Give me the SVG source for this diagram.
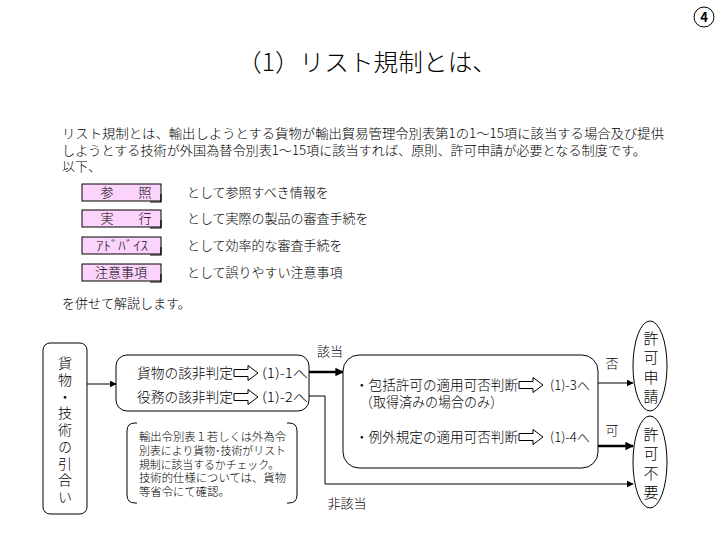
<svg xmlns="http://www.w3.org/2000/svg" width="720" height="540" viewBox="0 0 720 540">
<defs>
<style>
text{font-family:"Noto Sans CJK JP","Noto Sans CJK SC",sans-serif;fill:#000;font-weight:300}
.t13{font-size:13px}
.t14{font-size:14px}
.t12{font-size:11.5px}
.v{font-size:14px;writing-mode:vertical-rl;letter-spacing:2.7px}
.e{font-size:15px;writing-mode:vertical-rl;letter-spacing:4.2px}
.tag{fill:#FBD3FB;stroke:#000;stroke-width:1}
.box{fill:#fff;stroke:#000;stroke-width:1}
.ln{fill:none;stroke:#000;stroke-width:1}
.thick{fill:none;stroke:#000;stroke-width:2.5}
</style>
<marker id="ah" viewBox="0 0 10 10" refX="9" refY="5" markerWidth="7" markerHeight="7" markerUnits="userSpaceOnUse" orient="auto"><path d="M0,0 L10,5 L0,10 Z" fill="#000"/></marker>
<marker id="ahT" viewBox="0 0 10 10" refX="9" refY="5" markerWidth="3.4" markerHeight="3.4" orient="auto"><path d="M0,0 L10,5 L0,10 Z" fill="#000"/></marker>
<path id="barrow" d="M0,-3.5 H14 V-7.5 L24,0 L14,7.5 V3.5 H0 Z" fill="#fff" stroke="#000" stroke-width="1"/>
<path id="tagfold" d="M-1,-7 V1 H-12" fill="none" stroke="#000" stroke-width="1.2"/>
</defs>
<rect width="720" height="540" fill="#fff"/>

<g id="page-number">
<circle cx="704" cy="17" r="10" fill="#fff" stroke="#000" stroke-width="1"/>
<text x="704" y="22" style="font-size:13px;text-anchor:middle;font-weight:bold">4</text>
</g>

<g id="title">
<text x="237" y="71" style="font-size:24px" textLength="260" lengthAdjust="spacingAndGlyphs">（1）リスト規制とは、</text>
</g>

<g id="intro">
<text class="t13"><tspan x="62" y="138" textLength="602" lengthAdjust="spacingAndGlyphs">リスト規制とは、輸出しようとする貨物が輸出貿易管理令別表第1の1～15項に該当する場合及び提供</tspan><tspan x="62" y="155" textLength="584" lengthAdjust="spacingAndGlyphs">しようとする技術が外国為替令別表1～15項に該当すれば、原則、許可申請が必要となる制度です。</tspan><tspan x="62" y="171">以下、</tspan></text>
<text class="t13" x="62" y="308">を併せて解説します。</text>
</g>

<g id="tag-sansho">
<rect class="tag" x="82" y="184" width="79" height="17"/>
<use href="#tagfold" x="162" y="201"/>
<text class="t13" x="107" y="197" style="text-anchor:middle">参</text>
<text class="t13" x="145" y="197" style="text-anchor:middle">照</text>
<text class="t13" x="187" y="197">として参照すべき情報を</text>
</g>
<g id="tag-jikko">
<rect class="tag" x="82" y="210" width="79" height="17"/>
<use href="#tagfold" x="162" y="227"/>
<text class="t13" x="107" y="223" style="text-anchor:middle">実</text>
<text class="t13" x="145" y="223" style="text-anchor:middle">行</text>
<text class="t13" x="187" y="223">として実際の製品の審査手続を</text>
</g>
<g id="tag-advice">
<rect class="tag" x="82" y="237" width="79" height="17"/>
<use href="#tagfold" x="162" y="254"/>
<text class="t13" x="96" y="250" textLength="52" lengthAdjust="spacingAndGlyphs">ｱﾄﾞﾊﾞｲｽ</text>
<text class="t13" x="187" y="250">として効率的な審査手続を</text>
</g>
<g id="tag-chui">
<rect class="tag" x="82" y="264" width="79" height="17"/>
<use href="#tagfold" x="162" y="281"/>
<text class="t13" x="121" y="277" style="text-anchor:middle">注意事項</text>
<text class="t13" x="187" y="277">として誤りやすい注意事項</text>
</g>

<g id="connectors">
<line class="ln" x1="87" y1="384" x2="116" y2="384" marker-end="url(#ah)"/>
<line class="thick" x1="309" y1="372" x2="343" y2="372" marker-end="url(#ahT)"/>
<polyline class="ln" points="309,396 325,396 325,484 633,484" marker-end="url(#ah)"/>
<line class="ln" x1="598" y1="383" x2="633" y2="383" marker-end="url(#ah)"/>
<line class="thick" x1="598" y1="446" x2="633" y2="446" marker-end="url(#ahT)"/>
<text class="t13" x="330" y="356" style="text-anchor:middle">該当</text>
<text class="t13" x="347" y="508" style="text-anchor:middle">非該当</text>
<text class="t13" x="612" y="368" style="text-anchor:middle">否</text>
<text class="t13" x="612" y="435" style="text-anchor:middle">可</text>
</g>

<g id="node-inquiry">
<rect class="box" x="43" y="343" width="44" height="171" rx="7"/>
<text class="v" x="65" y="356">貨物・技術の引合い</text>
</g>

<g id="node-classification">
<rect class="box" x="116" y="355" width="193" height="56" rx="11"/>
<text class="t14"><tspan x="137" y="378" textLength="96" lengthAdjust="spacingAndGlyphs">貨物の該非判定</tspan><tspan x="137" y="402" textLength="96" lengthAdjust="spacingAndGlyphs">役務の該非判定</tspan></text>
<use href="#barrow" x="234" y="373"/>
<use href="#barrow" x="234" y="397"/>
<text class="t13"><tspan x="262" y="378" textLength="46" lengthAdjust="spacingAndGlyphs">(1)-1へ</tspan><tspan x="262" y="402" textLength="46" lengthAdjust="spacingAndGlyphs">(1)-2へ</tspan></text>
</g>

<g id="node-note">
<path class="ln" d="M137,423 H135 Q127,423 127,431 V495 Q127,503 135,503 H137"/>
<path class="ln" d="M287,423 H289 Q297,423 297,431 V495 Q297,503 289,503 H287"/>
<text class="t12"><tspan x="139" y="441" textLength="147" lengthAdjust="spacingAndGlyphs">輸出令別表１若しくは外為令</tspan><tspan x="139" y="455" textLength="147" lengthAdjust="spacingAndGlyphs">別表により貨物･技術がリスト</tspan><tspan x="139" y="469" textLength="140" lengthAdjust="spacingAndGlyphs">規制に該当するかチェック。</tspan><tspan x="139" y="482" textLength="147" lengthAdjust="spacingAndGlyphs">技術的仕様については、貨物</tspan><tspan x="139" y="496" textLength="91" lengthAdjust="spacingAndGlyphs">等省令にて確認。</tspan></text>
</g>

<g id="node-judgement">
<rect class="box" x="343" y="355" width="255" height="113" rx="16"/>
<text class="t14"><tspan x="355" y="390" textLength="163" lengthAdjust="spacingAndGlyphs">・包括許可の適用可否判断</tspan><tspan x="360" y="407" textLength="143" lengthAdjust="spacingAndGlyphs">（取得済みの場合のみ）</tspan><tspan x="355" y="442" textLength="163" lengthAdjust="spacingAndGlyphs">・例外規定の適用可否判断</tspan></text>
<use href="#barrow" x="519" y="385"/>
<use href="#barrow" x="519" y="437"/>
<text class="t13"><tspan x="550" y="390" textLength="40" lengthAdjust="spacingAndGlyphs">(1)-3へ</tspan><tspan x="550" y="442" textLength="40" lengthAdjust="spacingAndGlyphs">(1)-4へ</tspan></text>
</g>

<g id="node-permit-required">
<ellipse class="box" cx="650" cy="366" rx="17" ry="45"/>
<text class="e" x="651" y="331">許可申請</text>
</g>

<g id="node-permit-unneeded">
<ellipse class="box" cx="650" cy="462" rx="17" ry="46"/>
<text class="e" x="651" y="427">許可不要</text>
</g>
</svg>
